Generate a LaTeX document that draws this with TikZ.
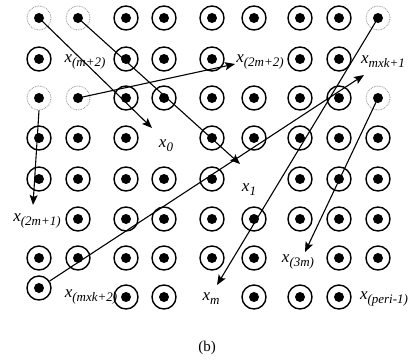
\documentclass[tikz,border=0pt]{standalone}
\usepackage{fontspec}
\setmainfont{Liberation Serif}
\usetikzlibrary{arrows.meta}

% italic x with a lowered italic index
\newcommand{\xsub}[1]{{\fontsize{17}{19}\selectfont\itshape x}\raisebox{-4pt}{\fontsize{13}{15}\selectfont\itshape #1}}

\begin{document}
\begin{tikzpicture}[x=1pt, y=-1pt,
    pix/.style={circle, draw, line width=1.4pt, minimum size=24pt, inner sep=0pt,
        path picture={\fill (path picture bounding box.center) circle (5pt);}},
    dotpix/.style={pix, draw=black!55, line width=0.7pt, densely dotted},
    lab/.style={inner sep=1pt},
    arr/.style={-{Stealth[length=10pt, width=8pt, inset=2pt]}, line width=1.1pt}]

    \useasboundingbox (0,0) rectangle (414,362);

    % =================================================================
    % 1. GRID OF PIXELS
    % =================================================================
    \def\colx{{0,39,78,126,164,212,254,300,339,378}}
    \def\rowy{{0,18,59,98,138,179,219,258,297}}

    % full pixels
    \foreach \rw/\cl in {1/3,1/4,1/5,1/6,1/7,1/8,
                         2/1,2/3,2/4,2/5,2/7,2/8,
                         3/3,3/4,3/5,3/6,3/7,3/8,
                         4/1,4/2,4/3,4/5,4/6,4/7,4/8,4/9,
                         5/1,5/2,5/3,5/4,5/5,5/7,5/8,5/9,
                         6/2,6/3,6/4,6/5,6/6,6/7,6/8,6/9,
                         7/1,7/2,7/3,7/4,7/5,7/6,7/8,7/9,
                         8/3,8/4,8/6,8/7,8/8}{
        \pgfmathsetmacro{\xx}{\colx[\cl]}
        \pgfmathsetmacro{\yy}{\rowy[\rw]}
        \node[pix] (p\rw-\cl) at (\xx,\yy) {};
    }
    \node[pix] (p8-1) at (39,288) {};

    % starting pixels (dotted)
    \foreach \rw/\cl in {1/1,1/2,1/9,3/1,3/2,3/9}{
        \pgfmathsetmacro{\xx}{\colx[\cl]}
        \pgfmathsetmacro{\yy}{\rowy[\rw]}
        \node[dotpix] (d\rw-\cl) at (\xx,\yy) {};
    }

    % =================================================================
    % 2. LABELS
    % =================================================================
    \node[lab] (xm2)   at (85,62)  {\xsub{(m+2)}};
    \node[lab] (x2m2)  at (260,62) {\xsub{(2m+2)}};
    \node[lab] (xmk1)  at (383,62) {\xsub{mxk+1}};
    \node[lab] (x0)    at (166,146) {\xsub{0}};
    \node[lab] (x1)    at (249,190) {\xsub{1}};
    \node[lab] (x2m1)  at (37,221) {\xsub{(2m+1)}};
    \node[lab] (x3m)   at (298,262) {\xsub{(3m)}};
    \node[lab] (xmk2)  at (91,297) {\xsub{(mxk+2)}};
    \node[lab] (xmm)   at (211,299) {\xsub{m}};
    \node[lab] (xper)  at (384,299) {\xsub{(peri-1)}};

    % =================================================================
    % 3. SCAN ARROWS
    % =================================================================
    \coordinate (t0)   at (152,128);
    \coordinate (t1)   at (240,164);
    \coordinate (t2m2) at (235,64);
    \coordinate (t2m1) at (33,205);
    \coordinate (tmk1) at (364,75);
    \coordinate (tm)   at (217,285);
    \coordinate (t3m)  at (305,252);

    \draw[arr] (d1-1.center) -- (t0);
    \draw[arr] (d1-2.center) -- (t1);
    \draw[arr] (d3-2.center) -- (t2m2);
    \draw[arr] (d3-1.south) -- (t2m1);
    \draw[arr] (p8-1) -- (tmk1);
    \draw[arr] (d1-9.center) -- (tm);
    \draw[arr] (d3-9.center) -- (t3m);

    % caption
    \node[font=\fontsize{15}{17}\selectfont] (cap) at (207,348) {(b)};

\end{tikzpicture}
\end{document}
